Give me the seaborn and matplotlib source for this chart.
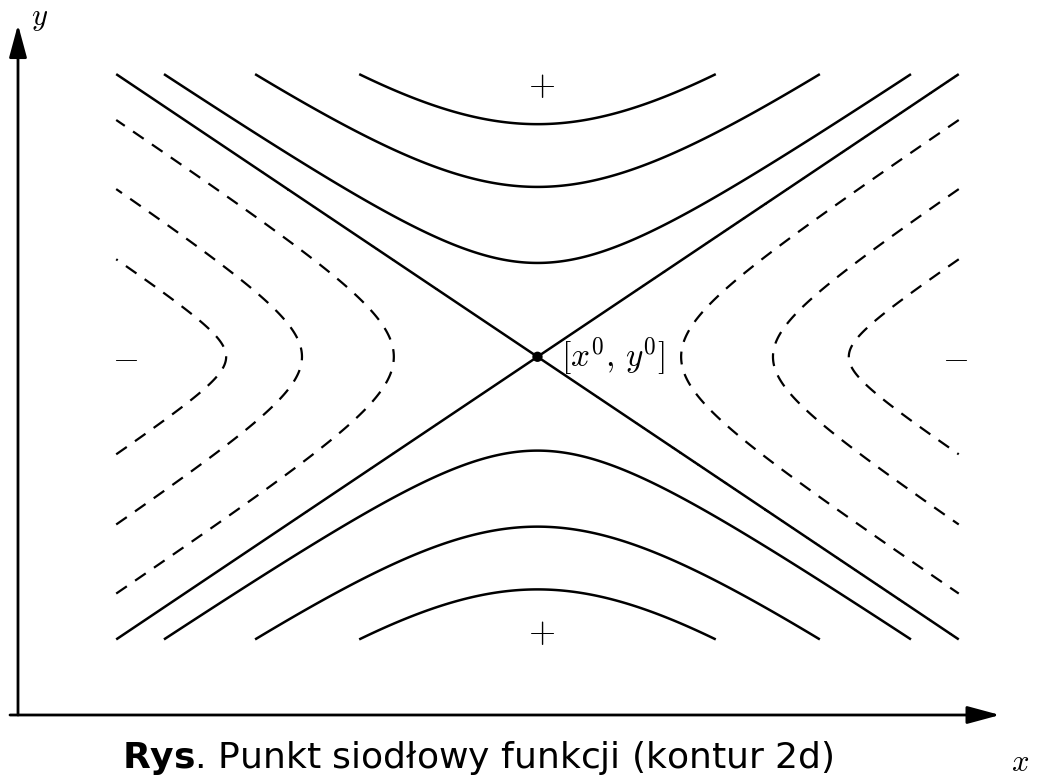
import numpy as np
import matplotlib
matplotlib.use("Agg")
import matplotlib.pyplot as plt
import seaborn as sns

# saddle point and the region covered by the contours (data units)
saddle_x, saddle_y = 5.29, 3.65
half_width, half_height = 4.29, 2.88

# distance of each contour's vertex from the saddle point (normalised to the region)
solid_vertex = [0.332, 0.601, 0.823]    # f > 0, vertices above/below the saddle
dashed_vertex = [0.341, 0.559, 0.739]   # f < 0, vertices left/right of the saddle
solid_round = 0.5                 # rounding of the solid contours near their vertex
dashed_round = [0.3, 0.2, 0.1]    # rounding of each dashed contour near its vertex

# sign markers: (x, y, text)
signs = [(5.33, 6.42, "+"), (5.33, 0.85, "+"), (1.09, 3.65, "-"), (9.54, 3.65, "-")]

sns.set_theme(style="white")
plt.rcParams["mathtext.fontset"] = "cm"
plt.rcParams["lines.dashed_pattern"] = [5.8, 4.5]
plt.rcParams["font.family"] = ["DejaVu Sans"]
plt.rcParams["text.color"] = "black"

fig = plt.figure(figsize=(10.39, 7.76), dpi=100)
ax = fig.add_axes([18 / 1039, 61 / 776, 982 / 1039, 687 / 776])
ax.set_xlim(0, 10)
ax.set_ylim(0, 7)
ax.axis("off")

# grid over the contour region
xs = np.linspace(saddle_x - half_width, saddle_x + half_width, 900)
ys = np.linspace(saddle_y - half_height, saddle_y + half_height, 900)
X, Y = np.meshgrid(xs, ys)
U = (X - saddle_x) / half_width
V = (Y - saddle_y) / half_height


def soft_abs(t, e):
    return np.sqrt(e ** 2 + t ** 2)


# solid contours (f >= 0), including the two crossing lines through the saddle
f_solid = soft_abs(V, solid_round) - soft_abs(U, solid_round)
solid_levels = [0.0] + [soft_abs(a, solid_round) - solid_round for a in solid_vertex]
ax.contour(X, Y, f_solid, levels=sorted(solid_levels), colors="black",
           linewidths=1.8, linestyles="solid")

# dashed contours (f < 0)
for a, e in zip(dashed_vertex, dashed_round):
    f_dashed = soft_abs(U, e) - soft_abs(V, e)
    ax.contour(X, Y, f_dashed, levels=[soft_abs(a, e) - e], colors="black",
               linewidths=1.6, linestyles="dashed")

# saddle point
sns.scatterplot(x=[saddle_x], y=[saddle_y], color="black", s=55,
                edgecolor="none", ax=ax, legend=False, zorder=5)
ax.text(saddle_x + 0.24, saddle_y, r"$[x^0,\, y^0]$", fontsize=24,
        ha="left", va="center", color="black")

for sx, sy, s in signs:
    ax.text(sx, sy, rf"${s}$", fontsize=25, ha="center", va="center", color="black")

# axes arrows
arrow = dict(arrowstyle="-|>,head_length=1.0,head_width=0.27", lw=2.0,
             color="black", shrinkA=0, shrinkB=0, mutation_scale=20)
ax.annotate("", xy=(0, 1.005), xytext=(0, 0), xycoords="axes fraction",
            arrowprops=arrow)
ax.annotate("", xy=(1, 0), xytext=(-8 / 982, 0), xycoords="axes fraction",
            arrowprops=arrow)
ax.text(0.22, 7.1, r"$y$", fontsize=22, ha="center", va="center",
        clip_on=False, color="black")
ax.text(10.2, -0.48, r"$x$", fontsize=22, ha="center", va="center",
        clip_on=False, color="black")

fig.text(122 / 1039, 8 / 776, r"$\mathbf{Rys}$. Punkt siodłowy funkcji (kontur 2d)",
         fontsize=26, ha="left", va="baseline", math_fontfamily="dejavusans",
         color="black")

fig.savefig("out.png", dpi=100)
